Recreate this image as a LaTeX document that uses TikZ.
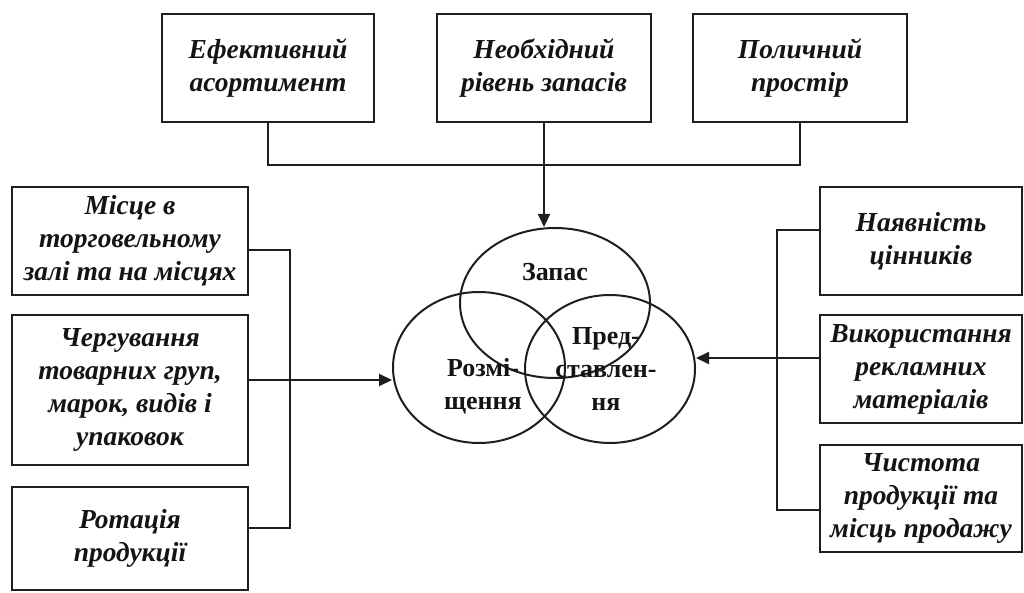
\documentclass[tikz,border=0pt]{standalone}
\usepackage{fontspec}
\setmainfont{Liberation Serif}
\usetikzlibrary{arrows.meta, positioning, shapes.geometric}
\definecolor{inkline}{HTML}{1E1E1E}
\definecolor{inktext}{HTML}{141414}
\tikzset{
  factor/.style={draw=inkline, line width=2.2pt, fill=white, align=center,
    text=inktext, inner sep=0pt,
    font=\bfseries\itshape\fontsize{27.5}{33}\selectfont},
  zone/.style={ellipse, draw=inkline, line width=2pt, inner sep=0pt},
  zonelabel/.style={text=inktext, align=center,
    font=\bfseries\fontsize{26}{33}\selectfont},
  link/.style={draw=inkline, line width=2pt},
  feed/.style={link, -{Triangle[length=13pt, width=12pt]}}
}
\newcommand{\factorbox}[5]{%
  \node[factor, minimum width=#3, minimum height=#4] (#1) at (#2) {#5};}

\begin{document}
\begin{tikzpicture}[x=1pt, y=-1pt]
  \useasboundingbox (0,0) rectangle (1024,593);
  % top row
  \factorbox{ef}{268,68}{212pt}{108pt}{Ефективний\\асортимент}
  \factorbox{need}{544,68}{214pt}{108pt}{Необхідний\\рівень запасів}
  \factorbox{shelf}{800,68}{214pt}{108pt}{Поличний\\простір}
  % left column
  \factorbox{place}{130,241}{236pt}{108pt}{Місце в\\торговельному\\залі та на місцях}
  \factorbox{alt}{130,390}{236pt}{150pt}{Чергування\\товарних груп,\\марок, видів і\\упаковок}
  \factorbox{rot}{130,538.5}{236pt}{103pt}{Ротація\\продукції}
  % right column
  \factorbox{price}{921,241}{202pt}{108pt}{Наявність\\цінників}
  \factorbox{promo}{921,369}{202pt}{108pt}{Використання\\рекламних\\матеріалів}
  \factorbox{clean}{921,498.5}{202pt}{107pt}{Чистота\\продукції та\\місць продажу}
  % three zones
  \node[zone, minimum width=190pt, minimum height=150pt] (stock) at (555,303) {};
  \node[zone, minimum width=172pt, minimum height=151pt] (lay) at (479,367.5) {};
  \node[zone, minimum width=170pt, minimum height=148pt] (pres) at (610,369) {};
  \node[zonelabel] (stocktxt) at (555,272) {Запас};
  \node[zonelabel] (laytxt) at (483,386.5) {Розмі-\\щення};
  \node[zonelabel] (prestxt) at (606,369) {Пред-\\ставлен-\\ня};
  % connectors
  \coordinate (topbus) at (544,165);
  \coordinate (leftbus) at (290,380);
  \coordinate (rightbus) at (777,358);
  \draw[link] (ef.south) |- (topbus) -| (shelf.south);
  \draw[feed] (need.south) -- (need.south |- stock.north);
  \draw[link] ([yshift=-9pt]place.east) -| (leftbus) |- ([yshift=10.5pt]rot.east);
  \draw[feed] ([yshift=10pt]alt.east) -- (lay.west |- leftbus);
  \draw[link] ([yshift=11pt]price.west) -| (rightbus) |- ([yshift=-11.5pt]clean.west);
  \draw[feed] ([yshift=11pt]promo.west) -- (pres.east |- rightbus);
\end{tikzpicture}
\end{document}
